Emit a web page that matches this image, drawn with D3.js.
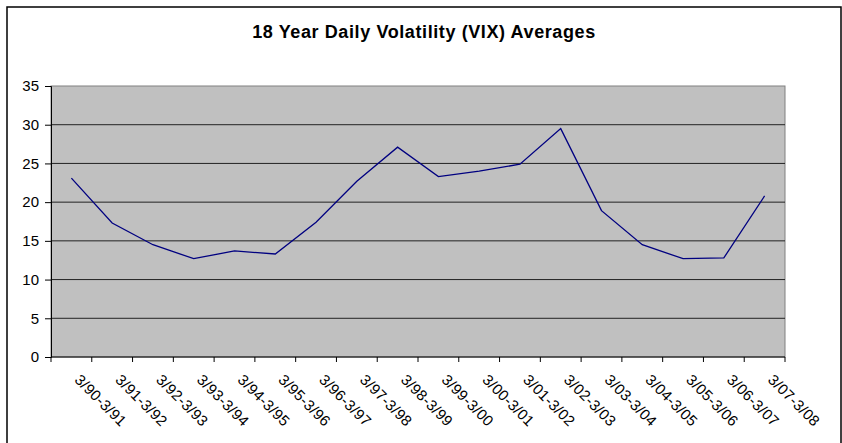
<!DOCTYPE html>
<html>
<head>
<meta charset="utf-8">
<script src="https://cdn.jsdelivr.net/npm/d3@7"></script>
<style>
  body { margin: 0; background: #fff; }
  text { font-family: "Liberation Sans", Arial, sans-serif; }
</style>
</head>
<body>
<script>
// categories and values
var periods = ["3/90-3/91", "3/91-3/92", "3/92-3/93", "3/93-3/94", "3/94-3/95", "3/95-3/96",
  "3/96-3/97", "3/97-3/98", "3/98-3/99", "3/99-3/00", "3/00-3/01", "3/01-3/02",
  "3/02-3/03", "3/03-3/04", "3/04-3/05", "3/05-3/06", "3/06-3/07", "3/07-3/08"];
var vixAvg = [23.1, 17.3, 14.5, 12.7, 13.7, 13.3, 17.4, 22.7, 27.1, 23.3, 24.0, 24.9,
  29.5, 18.9, 14.5, 12.7, 12.8, 20.8];
var yTicks = [0, 5, 10, 15, 20, 25, 30, 35];

var W = 842, H = 443;
var margin = { top: 86, right: 57, bottom: 86, left: 51 };
var width = W - margin.left - margin.right;
var height = H - margin.top - margin.bottom;

var svg = d3.select("body").append("svg")
  .attr("width", W)
  .attr("height", H);

//outer chart frame (bottom edge runs off the picture)
svg.append("rect")
  .attr("x", 7).attr("y", 7)
  .attr("width", 834).attr("height", 460)
  .attr("fill", "#fff")
  .attr("stroke", "#000")
  .attr("stroke-width", 1.5);

svg.append("text")
  .attr("x", 424)
  .attr("y", 38)
  .attr("text-anchor", "middle")
  .style("font-size", "18px")
  .style("font-weight", "bold")
  .style("letter-spacing", "0.6px")
  .text("18 Year Daily Volatility (VIX) Averages");

var g = svg.append("g")
  .attr("transform", "translate(" + margin.left + "," + margin.top + ")");

var x = d3.scaleBand().domain(periods).range([0, width]);
var y = d3.scaleLinear().domain([0, 35]).range([height, 0]);

//grey plot area
g.append("rect")
  .attr("width", width).attr("height", height)
  .attr("fill", "#c0c0c0")
  .attr("stroke", "#808080");

//gridlines
g.selectAll(".grid")
  .data(yTicks.slice(1, -1))
  .enter().append("line")
  .attr("x1", 0).attr("x2", width)
  .attr("y1", function(d) { return y(d); })
  .attr("y2", function(d) { return y(d); })
  .attr("stroke", "#222")
  .attr("stroke-width", 1);

//y axis
var yAxis = g.append("g")
  .call(d3.axisLeft(y).tickValues(yTicks).tickSize(6).tickPadding(6));
yAxis.select(".domain").attr("stroke", "#000");
yAxis.selectAll("text").style("font-size", "15px").attr("fill", "#000")
  .style("font-family", "Liberation Sans, Arial, sans-serif");

//x axis: ticks on category boundaries
var xAxis = g.append("g").attr("transform", "translate(0," + height + ")");
xAxis.append("line")
  .attr("x1", 0).attr("x2", width)
  .attr("stroke", "#000");
xAxis.selectAll(".tick")
  .data(d3.range(periods.length + 1))
  .enter().append("line")
  .attr("x1", function(i) { return i * x.step(); })
  .attr("x2", function(i) { return i * x.step(); })
  .attr("y1", 0).attr("y2", 5)
  .attr("stroke", "#000");
xAxis.selectAll(".lbl")
  .data(periods)
  .enter().append("text")
  .attr("transform", function(d) {
    return "translate(" + (x(d) + x.bandwidth() / 2 + 6) + ",20) rotate(45)";
  })
  .attr("text-anchor", "start")
  .attr("dy", "0.35em")
  .style("font-size", "15px")
  .style("letter-spacing", "0.3px")
  .text(function(d) { return d; });

//the line
var line = d3.line()
  .x(function(d, i) { return x(periods[i]) + x.bandwidth() / 2; })
  .y(function(d) { return y(d); });

g.append("path")
  .datum(vixAvg)
  .attr("fill", "none")
  .attr("stroke", "#000080")
  .attr("stroke-width", 1.3)
  .attr("d", line);
</script>
</body>
</html>
